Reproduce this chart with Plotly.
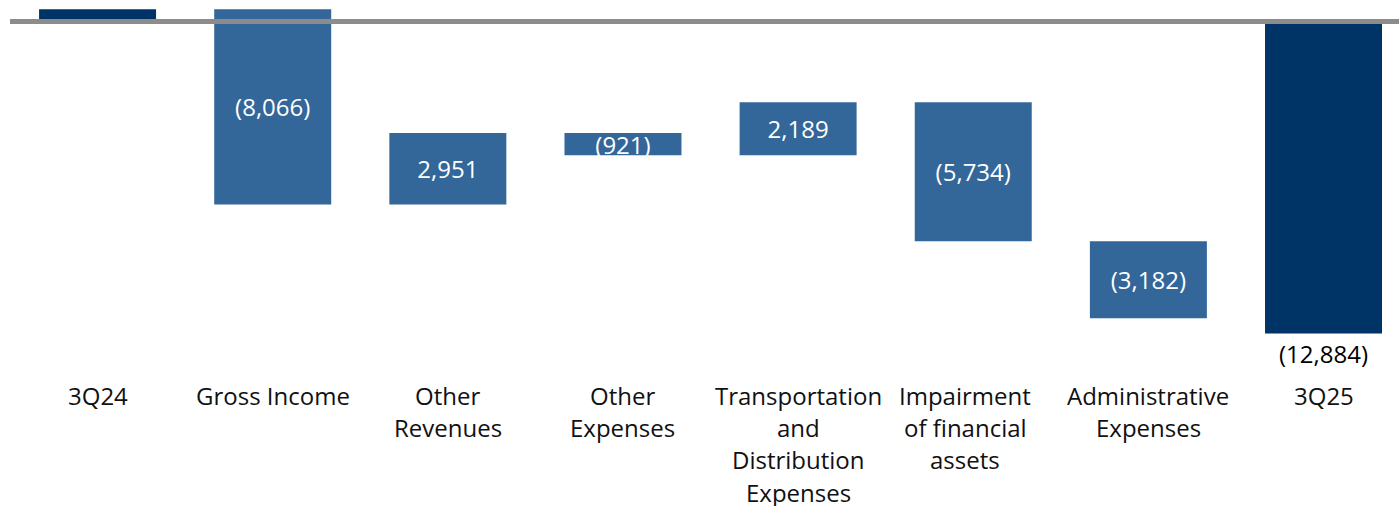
import plotly.graph_objects as go

# Waterfall data (thousands)
categories = ["3Q24", "Gross Income", "Other Revenues", "Other Expenses",
              "Transportation and Distribution Expenses",
              "Impairment of financial assets", "Administrative Expenses", "3Q25"]
category_lines = [["3Q24"], ["Gross Income"], ["Other", "Revenues"], ["Other", "Expenses"],
                  ["Transportation", "and", "Distribution", "Expenses"],
                  ["Impairment", "of financial", "assets"],
                  ["Administrative", "Expenses"], ["3Q25"]]
opening_value = 510
step_values = [-8066, 2951, -921, 2189, -5734, -3182]
closing_value = -12884

TOTAL_COLOR = "#003366"
STEP_COLOR = "#336699"
FONT = "Open Sans"
FONT_SIZE = 24


def fmt(v):
    s = f"{abs(v):,}"
    return f"({s})" if v < 0 else s


# running bases for the floating bars
step_cats = categories[1:-1]
bases = []
running = opening_value
for v in step_values:
    bases.append(running)
    running += v

fig = go.Figure()

fig.add_trace(go.Bar(
    x=step_cats, y=step_values, base=bases,
    marker=dict(color=STEP_COLOR, line=dict(width=0)),
    width=0.668,
    text=[fmt(v) for v in step_values],
    textposition="inside", insidetextanchor="middle", textangle=0,
    textfont=dict(family=FONT, size=FONT_SIZE, color="white"),
    hoverinfo="skip",
))

fig.add_trace(go.Bar(
    x=[categories[0], categories[-1]], y=[opening_value, closing_value], base=[0, 0],
    marker=dict(color=TOTAL_COLOR, line=dict(width=0)),
    width=0.668,
    text=["", fmt(closing_value)],
    textposition="outside", textangle=0,
    textfont=dict(family=FONT, size=FONT_SIZE, color="black"),
    cliponaxis=False,
    hoverinfo="skip",
))

# zero baseline drawn over the bars
fig.add_shape(type="line", xref="paper", x0=0, x1=1, yref="y", y0=0, y1=0,
              line=dict(color="#8c8c8c", width=5), layer="above")

# multi-line category labels under the plot
label_nudge = {"Impairment of financial assets": -8}
annotations = []
for cat, lines in zip(categories, category_lines):
    for i, line in enumerate(lines):
        annotations.append(dict(
            x=cat, xref="x", y=0, yref="paper", yanchor="middle",
            xshift=label_nudge.get(cat, 0),
            yshift=-25 - 32.4 * i, text=line, showarrow=False,
            font=dict(family=FONT, size=FONT_SIZE, color="#111111"),
        ))

fig.update_layout(
    width=1399, height=506,
    margin=dict(l=10, r=0, t=0, b=136),
    paper_bgcolor="white", plot_bgcolor="white",
    barmode="overlay", showlegend=False,
    uniformtext=dict(minsize=FONT_SIZE, mode="show"),
    xaxis=dict(type="category", categoryorder="array", categoryarray=categories,
               range=[-0.5, 7.431], showticklabels=False, showgrid=False,
               zeroline=False, showline=False, ticks=""),
    yaxis=dict(range=[-14389, 888], visible=False, showgrid=False, zeroline=False),
    annotations=annotations,
    font=dict(family=FONT),
)

fig.write_html("out.html")
